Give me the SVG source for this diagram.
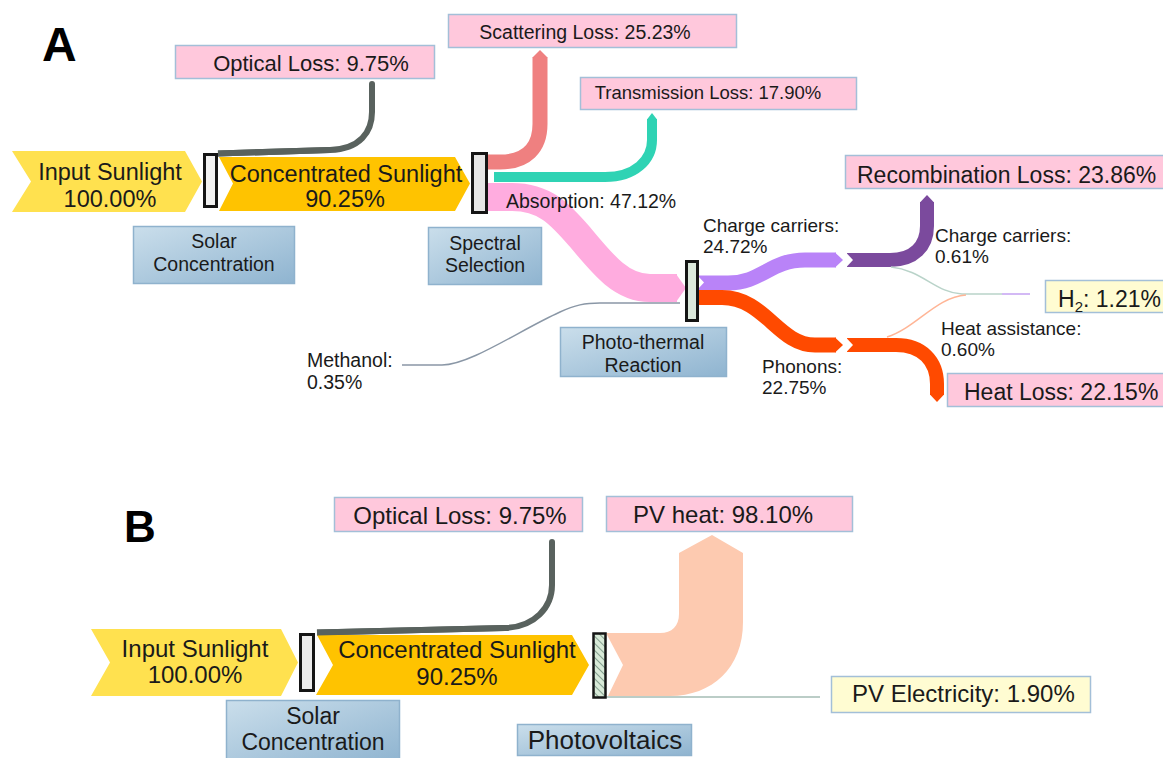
<svg xmlns="http://www.w3.org/2000/svg" width="1163" height="758" viewBox="0 0 1163 758">
<defs>
<linearGradient id="blueGrad" x1="0" y1="0" x2="1" y2="1">
<stop offset="0" stop-color="#cadeeb"/>
<stop offset="1" stop-color="#8fb4d0"/>
</linearGradient>
<pattern id="hatch" width="5" height="5" patternUnits="userSpaceOnUse" patternTransform="rotate(-45)">
<rect width="5" height="5" fill="#d8ead8"/>
<line x1="0" y1="0" x2="0" y2="5" stroke="#6f8c7c" stroke-width="1.6"/>
</pattern>
<style>
text{font-family:"Liberation Sans",Arial,sans-serif;fill:#1a1a1a}
.big{font-family:"Liberation Sans",Arial,sans-serif;font-weight:bold;fill:#000}
.pink{fill:#ffc8dc;stroke:#a3bfd8;stroke-width:1.5}
.yel{fill:#fffcd2;stroke:#a3bfd8;stroke-width:1.5}
.blue{fill:url(#blueGrad);stroke:#8fb2cd;stroke-width:1.5}
.bar{stroke:#151515;stroke-width:3}
.flow{fill:none;stroke-linecap:butt;stroke-linejoin:round}
.thin{fill:none;stroke-width:1.5}
.c{text-anchor:middle}
</style>
</defs>
<rect width="1163" height="758" fill="#ffffff"/>

<text class="big" x="42" y="61" font-size="48">A</text>
<text class="big" x="124" y="542" font-size="44">B</text>

<!-- ===== Panel A connectors ===== -->
<g id="connectors-A">
<path class="flow" d="M218,153.5 L330,150 C360,149 372,132 372,112 L372,84" stroke="#59625e" stroke-width="6"/>
<circle cx="372" cy="84" r="3" fill="#59625e"/>
<path class="flow" d="M488,162 L500,162 C526,162 540,148 540,124 L540,57" stroke="#ef8080" stroke-width="15"/>
<polygon points="532.5,57.5 540,50 547.5,57.5" fill="#ef8080"/>
<path class="flow" d="M494,177 L605,177 C635,177 652,160 652,140 L652,119" stroke="#2fd3b4" stroke-width="10"/>
<polygon points="647,119.5 652,113 657,119.5" fill="#2fd3b4"/>
<path class="flow" d="M487,197 L512,197 C545,197 560,214 580,237 C604,266 622,288 650,288 L677,288" stroke="#ffacdf" stroke-width="28"/>
<polygon points="676,274 686,288 676,302" fill="#ffacdf"/>
<path class="thin" d="M402,365 L442,365 C470,365 520,330 560,312 C575,305 585,303 600,303 L680,303" stroke="#8a97a6"/>
<path class="flow" d="M697,283 L728,283 C762,283 770,260 805,260 L836,260" stroke="#b983f8" stroke-width="15"/>
<polygon points="835,252.5 843,260 835,267.5" fill="#b983f8"/>
<polygon points="697,275 704,282.5 697,290" fill="#ffffff"/>
<path class="flow" d="M697,297.5 L722,297.5 C765,297.5 778,345 815,345 L836,345" stroke="#ff4a00" stroke-width="15"/>
<polygon points="835,337.5 843,345 835,352.5" fill="#ff4a00"/>
<path class="flow" d="M847,260 L890,260 C914,260 927,246 927,226 L927,202" stroke="#7b4a9d" stroke-width="14"/>
<polygon points="920,202.5 927,195 934,202.5" fill="#7b4a9d"/>
<polygon points="846,252.5 853,260 846,267.5" fill="#ffffff"/>
<path class="flow" d="M847,345 L896,345 C922,345 937,361 937,384 L937,395" stroke="#ff4a00" stroke-width="14"/>
<polygon points="930,394.5 937,402 944,394.5" fill="#ff4a00"/>
<polygon points="846,337.5 853,345 846,352.5" fill="#ffffff"/>
<path class="thin" d="M891,267 C922,270 936,293 962,294 L1002,294" stroke="#b9d3c9" stroke-width="1.5"/>
<path class="thin" d="M1002,294 L1030,294" stroke="#c4a2f2" stroke-width="2"/>
<path class="thin" d="M887,337 C916,328 936,297 966,295" stroke="#ffb596" stroke-width="1.5"/>
</g>

<!-- ===== Panel A nodes ===== -->
<g id="input-sunlight-A">
<polygon points="12,151 185,151 202,181.5 185,212 12,212 31,181.5" fill="#ffe14f"/>
<text class="c" x="110" y="180" font-size="23.5">Input Sunlight</text>
<text class="c" x="110" y="207" font-size="23.5">100.00%</text>
</g>
<g id="solar-bar-A"><rect class="bar" x="204.5" y="154.5" width="12" height="52" fill="#f2f2f2"/></g>
<g id="concentrated-sunlight-A">
<polygon points="219,157 455,157 470,183.5 455,211 219,211 233,183.5" fill="#ffc300"/>
<path d="M218,153.5 L330,150" stroke="#59625e" stroke-width="6" fill="none"/>
<text class="c" x="346" y="182" font-size="23.5">Concentrated Sunlight</text>
<text class="c" x="345" y="207" font-size="23.5">90.25%</text>
</g>
<g id="optical-loss-A">
<rect class="pink" x="175.5" y="45.5" width="259" height="33"/>
<text class="c" x="311" y="71" font-size="22">Optical Loss: 9.75%</text>
</g>
<g id="solar-concentration-A">
<rect class="blue" x="133.5" y="226.5" width="161" height="57"/>
<text class="c" x="214" y="248" font-size="19.5">Solar</text>
<text class="c" x="214" y="271" font-size="19.5">Concentration</text>
</g>
<g id="spectral-bar-A"><rect class="bar" x="472.5" y="153.5" width="14" height="59" fill="#e6e6e6"/></g>
<g id="spectral-selection-A">
<rect class="blue" x="428.5" y="227.5" width="113" height="57"/>
<text class="c" x="485" y="250" font-size="19.5">Spectral</text>
<text class="c" x="485" y="272" font-size="19.5">Selection</text>
</g>
<g id="scattering-loss">
<rect class="pink" x="448.5" y="14.5" width="288" height="33"/>
<text class="c" x="585" y="39" font-size="19.5">Scattering Loss: 25.23%</text>
</g>
<g id="transmission-loss">
<rect class="pink" x="580.5" y="77.5" width="276" height="32"/>
<text class="c" x="708" y="99" font-size="18.5">Transmission Loss: 17.90%</text>
</g>
<g id="absorption-label"><text x="506" y="208" font-size="19.5">Absorption: 47.12%</text></g>
<g id="photothermal-bar"><rect class="bar" x="686.5" y="261.5" width="11" height="59" fill="#dce9dc"/></g>
<g id="photothermal-reaction">
<rect class="blue" x="560.5" y="327.5" width="166" height="49"/>
<text class="c" x="643" y="349" font-size="19.5">Photo-thermal</text>
<text class="c" x="643" y="372" font-size="19.5">Reaction</text>
</g>
<g id="methanol"><text x="307" y="367" font-size="19.5">Methanol:</text><text x="307" y="389" font-size="19.5">0.35%</text></g>
<g id="charge-carriers-1"><text x="703" y="232" font-size="19">Charge carriers:</text><text x="703" y="253" font-size="19">24.72%</text></g>
<g id="phonons"><text x="762" y="373" font-size="19">Phonons:</text><text x="762" y="394" font-size="19">22.75%</text></g>
<g id="charge-carriers-2"><text x="935" y="242" font-size="19">Charge carriers:</text><text x="935" y="263" font-size="19">0.61%</text></g>
<g id="heat-assistance"><text x="941" y="335" font-size="19">Heat assistance:</text><text x="941" y="356" font-size="19">0.60%</text></g>
<g id="recombination-loss">
<rect class="pink" x="845.5" y="155.5" width="320" height="33"/>
<text x="857" y="183" font-size="23">Recombination Loss: 23.86%</text>
</g>
<g id="h2">
<rect class="yel" x="1045.5" y="280.5" width="120" height="32"/>
<text x="1058" y="307" font-size="23">H<tspan font-size="15" dy="5">2</tspan><tspan dy="-5">: 1.21%</tspan></text>
</g>
<g id="heat-loss">
<rect class="pink" x="947.5" y="373.5" width="218" height="33"/>
<text x="964" y="400" font-size="23">Heat Loss: 22.15%</text>
</g>

<!-- ===== Panel B connectors ===== -->
<g id="connectors-B">
<path class="flow" d="M317,632.5 L505,628 C535,627 552,607 552,585 L552,542" stroke="#59625e" stroke-width="6"/>
<circle cx="552" cy="542" r="3" fill="#59625e"/>
<path d="M606,633 L660,633 C672,633 679,626 679,614 L679,553 L712,535 L743,553 L743,622 C743,668 712,696 670,696 L608,696 L623,665 Z" fill="#fdcab0"/>
<path class="thin" d="M606,697 L820,697" stroke="#a5bcb5"/>
</g>

<!-- ===== Panel B nodes ===== -->
<g id="input-sunlight-B">
<polygon points="91,629 281,629 298,662.5 281,696 91,696 110,662.5" fill="#ffe14f"/>
<text class="c" x="195" y="657" font-size="24">Input Sunlight</text>
<text class="c" x="195" y="683" font-size="24">100.00%</text>
</g>
<g id="solar-bar-B"><rect class="bar" x="300.5" y="634.5" width="13" height="56" fill="#ececec"/></g>
<g id="concentrated-sunlight-B">
<polygon points="317,635 572,635 589,665 572,695 316,695 333,665" fill="#ffc300"/>
<path d="M317,632.5 L505,628" stroke="#59625e" stroke-width="6" fill="none"/>
<text class="c" x="457" y="658" font-size="24">Concentrated Sunlight</text>
<text class="c" x="457" y="685" font-size="24">90.25%</text>
</g>
<g id="optical-loss-B">
<rect class="pink" x="334.5" y="497.5" width="248" height="34"/>
<text class="c" x="460" y="524" font-size="24">Optical Loss: 9.75%</text>
</g>
<g id="solar-concentration-B">
<rect class="blue" x="226.5" y="700.5" width="173" height="62"/>
<text class="c" x="313" y="724" font-size="23">Solar</text>
<text class="c" x="313" y="750" font-size="23">Concentration</text>
</g>
<g id="pv-bar"><rect x="593.5" y="633.5" width="12" height="64" fill="url(#hatch)" stroke="#151515" stroke-width="2.5"/></g>
<g id="pv-heat">
<rect class="pink" x="606.5" y="496.5" width="246" height="35"/>
<text x="633" y="523" font-size="24">PV heat: 98.10%</text>
</g>
<g id="pv-electricity">
<rect class="yel" x="831.5" y="676.5" width="259" height="36"/>
<text x="852" y="702" font-size="24">PV Electricity: 1.90%</text>
</g>
<g id="photovoltaics">
<rect class="blue" x="517.5" y="724.5" width="174" height="31"/>
<text class="c" x="605" y="749" font-size="26">Photovoltaics</text>
</g>
</svg>
